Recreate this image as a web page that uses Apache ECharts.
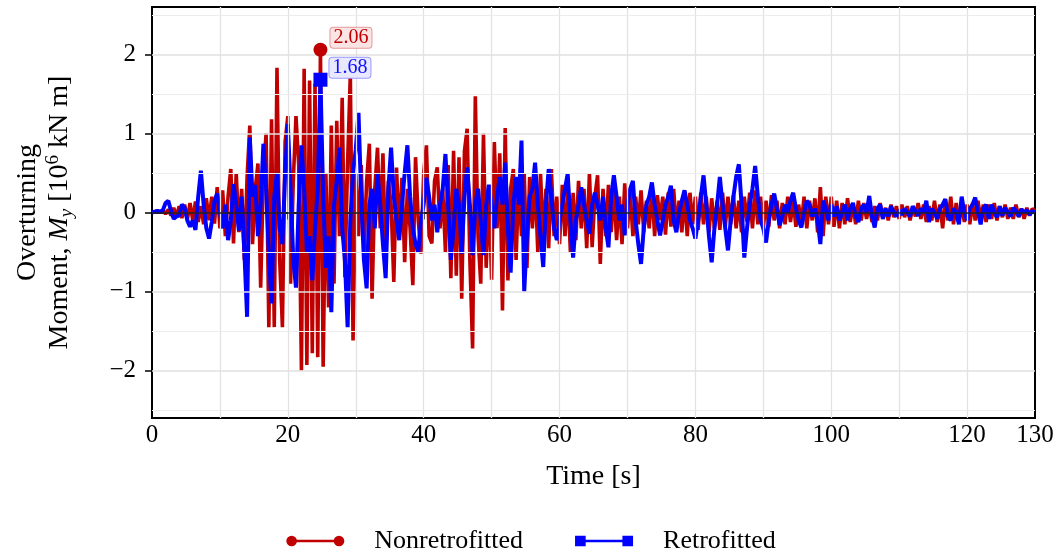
<!DOCTYPE html>
<html>
<head>
<meta charset="utf-8">
<script src="https://cdn.jsdelivr.net/npm/echarts@6/dist/echarts.min.js"></script>
<style>
  html, body { margin: 0; padding: 0; background: #fff; }
  #chart { width: 1062px; height: 557px; }
</style>
</head>
<body>
<div id="chart"></div>
<script>
// sampling step of both records [s]
const timeStep = 0.4;

// overturning moment, 10^6 kN m, one value per step
const nonretrofitted = [
  0, 0.01, 0.02, 0, 0.03, -0.02, 0.04, -0.04, 0.06, -0.05, 0.08, -0.07, 0.1, -0.09, 0.12, -0.1, 0.14, -0.12, 0.08, -0.15, 0.18, -0.1, 0.2, -0.14, 0.32,
  -0.2, 0.28, -0.3, 0.2, 0.55, -0.39, 0.5, -0.25, 0.3, -0.6, 0.45, 1.1, -0.4, 0.3, 0.62, -0.95, 0.5, 1.0, -1.45, 1.18, -1.45, 1.83, -0.6, -1.45, 0.9,
  1.22, -0.9, 0.4, 1.22, 0.6, -2.0, 1.82, -1.93, 1.67, -1.78, 1.63, -1.83, 2.06, -1.95, 0.5, -1.2, 1.1, -0.9, 1.16, -0.3, 1.45, -0.82, 0.63, 1.75, -1.62,
  0.5, -0.3, 0.6, -0.52, 0.4, 0.87, -1.09, 0.3, 0.82, -0.2, 0.75, -0.6, 0.4, 0.1, -0.88, 0.57, -0.3, 0.44, -0.63, 0.3, -0.2, -0.92, 0.7, -0.1, -0.52,
  0.5, 0.85, -0.3, -0.39, 0.4, 0.57, -0.2, 0.3, -0.5, 0.6, -0.83, 0.78, -0.8, 0.7, -1.09, 0.78, 1.06, -0.6, -1.72, 1.47, -0.3, -0.9, 1.0, -0.7, 0.3,
  -0.85, 0.89, -0.2, 0.75, -1.24, 1.07, -0.86, 0.3, 0.55, -0.6, 0.4, -0.3, 0.5, -0.7, 0.45, -0.2, 0.4, -0.5, 0.5, -0.35, 0.3, -0.45, 0.55, -0.3, 0.2,
  -0.4, 0.35, -0.3, 0.3, -0.5, 0.25, -0.35, 0.4, -0.2, 0.3, -0.45, 0.5, -0.44, 0.2, 0.47, -0.65, 0.3, -0.3, 0.35, -0.25, 0.3, -0.35, 0.2, -0.4, 0.37,
  -0.2, 0.25, -0.3, 0.2, -0.15, 0.28, -0.25, 0.15, -0.2, 0.3, -0.3, 0.22, -0.1, 0.2, -0.28, 0.25, -0.18, 0.3, -0.2, 0.15, -0.25, 0.2, -0.3, 0.25, -0.15,
  0.2, -0.22, 0.25, -0.15, 0.2, -0.25, 0.18, -0.2, 0.15, -0.22, 0.25, -0.18, 0.2, -0.15, 0.22, -0.2, 0.15, -0.25, 0.2, -0.12, 0.25, -0.2, 0.28, -0.15, 0.2,
  -0.2, 0.15, -0.18, 0.22, -0.1, 0.15, -0.2, 0.12, -0.15, 0.2, -0.12, 0.15, -0.18, 0.1, -0.15, 0.2, -0.2, 0.15, -0.1, 0.18, -0.25, 0.32, -0.3, 0.2, -0.15,
  0.2, -0.18, 0.15, -0.2, 0.12, -0.15, 0.18, -0.12, 0.1, -0.15, 0.15, -0.1, 0.12, -0.08, 0.1, -0.12, 0.08, -0.1, 0.12, -0.08, 0.06, -0.1, 0.1, -0.06, 0.08,
  -0.08, 0.1, -0.06, 0.08, -0.1, 0.06, -0.05, 0.12, -0.08, 0.1, -0.12, 0.08, -0.1, 0.15, -0.12, 0.1, -0.2, 0.15, -0.1, 0.2, -0.15, 0.12, -0.1, 0.08, -0.12,
  0.1, -0.15, 0.12, -0.1, 0.15, -0.08, 0.1, -0.12, 0.1, -0.08, 0.12, -0.1, 0.08, -0.06, 0.1, -0.08, 0.06, -0.08, 0.1, -0.06, 0.05, -0.08, 0.06, -0.04, 0.05, 0.02
];

const retrofitted = [
  0, 0.01, 0.02, 0.01, 0.03, 0.12, 0.15, 0.02, -0.08, -0.05, -0.04, 0.1, 0.06, -0.1, -0.18, -0.1, -0.22, 0.2, 0.53, 0.1, -0.2, -0.33, -0.12, 0.15, 0.24,
  0.0, -0.2, 0.1, -0.35, -0.1, 0.36, 0.1, -0.23, 0.2, -0.5, -1.32, 0.95, 0.2, 0.35, -0.3, 0.1, 0.87, 0.3, -0.5, -1.15, 0.2, 0.5, -0.2, -0.4, 0.5,
  1.12, 0.3, -0.6, -0.95, 0.1, 0.85, 0.3, -0.5, -0.3, -0.86, -0.2, 0.3, 1.68, 0.2, -0.7, -0.3, -1.26, 0.1, 0.4, 0.82, -0.2, -0.6, -1.45, -0.1, 0.5,
  0.8, 1.26, 0.2, -0.6, -0.96, 0.1, 0.3, -0.2, 0.5, 0.1, -0.4, -0.83, 0.3, 0.82, 0.2, -0.1, -0.35, 0.1, 0.5, 0.85, 0.2, -0.2, -0.4, -0.5, -0.1,
  0.1, 0.44, 0.2, -0.1, 0.1, -0.25, 0.1, 0.3, 0.74, 0.1, -0.6, -0.2, 0.3, 0.1, -0.52, 0.2, 0.57, 0.1, -0.54, 0.1, 0.3, -0.1, -0.54, 0.1, 0.35,
  0.1, -0.2, 0.2, 0.45, 0.1, 0.63, -0.2, -0.76, 0.1, 0.45, 0.1, 0.91, -1.0, -0.3, 0.2, 0.3, 0.63, 0.1, -0.3, -0.69, 0.1, 0.55, 0.2, -0.2, -0.35,
  -0.1, 0.1, 0.3, 0.49, -0.1, -0.57, -0.1, 0.1, 0.32, 0.1, -0.1, -0.27, 0.1, 0.25, 0.1, -0.1, 0.2, -0.2, -0.44, 0.2, 0.47, 0.2, -0.1, 0.1, -0.29,
  0.1, 0.3, 0.4, -0.1, -0.4, -0.65, -0.2, 0.1, 0.2, 0.38, 0.1, -0.1, -0.29, -0.1, 0.1, 0.2, 0.34, -0.1, -0.25, 0.0, 0.15, 0.28, 0.1, -0.1, -0.2,
  -0.33, -0.1, 0.2, 0.47, 0.1, -0.3, -0.63, -0.2, 0.1, 0.45, 0.1, -0.2, -0.48, -0.1, 0.2, 0.45, 0.61, 0.1, -0.57, -0.2, 0.1, 0.3, 0.59, 0.2, -0.1,
  -0.2, -0.38, -0.1, 0.1, 0.24, 0.05, -0.16, -0.05, 0.1, 0.0, 0.15, 0.25, 0.05, -0.1, -0.19, 0.0, 0.15, 0.1, -0.05, 0.05, -0.1, -0.4, 0.15, 0.05, -0.1,
  0.1, -0.05, 0.08, -0.1, 0.0, 0.1, -0.1, 0.05, 0.12, -0.05, -0.12, 0.05, 0.1, 0.0, 0.21, -0.05, -0.19, 0.05, 0.1, -0.08, 0.05, -0.05, 0.08, 0.0, -0.05,
  0.03, -0.03, 0.05, 0.0, -0.05, 0.08, 0.02, -0.04, 0.05, 0.0, 0.15, -0.12, 0.05, 0.0, -0.08, 0.05, 0.1, 0.17, -0.05, -0.1, 0.05, 0.0, -0.15, 0.2, 0.0,
  -0.1, 0.05, 0.1, 0.19, 0.0, -0.15, 0.05, 0.1, -0.08, 0.1, 0.0, -0.06, 0.08, -0.04, 0.06, 0.0, -0.05, 0.06, 0.02, -0.05, 0.04, 0.0, 0.03, -0.03, 0.02, 0.0
];

const xTicks = [0, 20, 40, 60, 80, 100, 120, 130];
const yTicks = [-2, -1, 0, 1, 2];
const xGrid = [10, 20, 30, 40, 50, 60, 70, 80, 90, 100, 110, 120];
const yGridMajor = [-2, -1, 1, 2];
const yGridMinor = [-2.5, -1.5, -0.5, 0.5, 1.5, 2.5];

const RED = '#c00000';
const BLUE = '#0000ff';
const FONT = "'Liberation Serif', 'DejaVu Serif', serif";

// legend glyphs: a line with a marker at each end
const ICON_CIRCLE = 'path://M0,5.5a5.5,5.5 0 1,1 11,0a5.5,5.5 0 1,1 -11,0zM49,5.5a5.5,5.5 0 1,1 11,0a5.5,5.5 0 1,1 -11,0zM10,4.2h40v2.6h-40z';
const ICON_SQUARE = 'path://M0,0h11v11h-11zM49,0h11v11h-11zM10,4.2h40v2.6h-40z';

function toPairs(vals) {
  return vals.map((v, i) => [+(i * timeStep).toFixed(2), v]);
}
function peakOf(vals) {
  let k = 0;
  vals.forEach((v, i) => { if (v > vals[k]) k = i; });
  return [+(k * timeStep).toFixed(2), vals[k]];
}
const fmt = v => (v < 0 ? '\u2212' + (-v) : String(v));

const gridLines = [].concat(
  xGrid.map(v => ({ xAxis: v, lineStyle: { color: '#e2e2e2', width: 1.3, type: 'solid' } })),
  yGridMajor.map(v => ({ yAxis: v, lineStyle: { color: '#e0e0e0', width: 1.6, type: 'solid' } })),
  yGridMinor.map(v => ({ yAxis: v, lineStyle: { color: '#ececec', width: 1.2, type: 'solid' } })),
  [{ yAxis: 0, lineStyle: { color: '#222', width: 1.5, type: 'solid' } }]
);

const chart = echarts.init(document.getElementById('chart'));
chart.setOption({
  animation: false,
  backgroundColor: '#fff',
  textStyle: { fontFamily: FONT, color: '#000' },
  grid: {
    left: 152, right: 27, top: 7, bottom: 139,
    show: true, borderColor: '#000', borderWidth: 2, backgroundColor: 'transparent'
  },
  legend: {
    data: [
      { name: 'Nonretrofitted', icon: ICON_CIRCLE },
      { name: 'Retrofitted', icon: ICON_SQUARE }
    ],
    left: 'center', top: 523,
    itemWidth: 58, itemHeight: 11, itemGap: 52,
    itemStyle: { borderWidth: 0 },
    textStyle: { fontFamily: FONT, fontSize: 26, color: '#000', padding: [0, 0, 0, 25] }
  },
  xAxis: {
    type: 'value', min: 0, max: 130,
    name: 'Time [s]', nameLocation: 'middle', nameGap: 45,
    nameTextStyle: { fontFamily: FONT, fontSize: 28, color: '#000' },
    axisLine: { show: true, lineStyle: { color: '#000', width: 2 } },
    axisTick: { show: true, inside: false, length: 7, customValues: xTicks, lineStyle: { color: '#000', width: 1.5 } },
    axisLabel: { customValues: xTicks, margin: 5, fontFamily: FONT, fontSize: 25, color: '#000', formatter: fmt },
    splitLine: { show: false }
  },
  yAxis: {
    type: 'value', min: -2.6, max: 2.6,
    name: '{t|Overturning}\n{t|Moment, }{i|M}{sub|y}{t| [10}{sup|6}{t| kN m]}',
    nameLocation: 'middle', nameRotate: 90, nameGap: 76,
    nameTextStyle: {
      fontFamily: FONT, fontSize: 28, color: '#000',
      rich: {
        t: { fontFamily: FONT, fontSize: 28, lineHeight: 32, color: '#000' },
        i: { fontFamily: FONT, fontSize: 28, lineHeight: 32, fontStyle: 'italic', color: '#000' },
        sub: { fontFamily: FONT, fontSize: 19, lineHeight: 22, fontStyle: 'italic', verticalAlign: 'bottom', color: '#000' },
        sup: { fontFamily: FONT, fontSize: 19, lineHeight: 26, verticalAlign: 'top', color: '#000' }
      }
    },
    axisLine: { show: true, lineStyle: { color: '#000', width: 2 } },
    axisTick: { show: true, inside: false, length: 7, customValues: yTicks, lineStyle: { color: '#000', width: 1.5 } },
    axisLabel: { customValues: yTicks, margin: 16, fontFamily: FONT, fontSize: 25, color: '#000', formatter: fmt },
    splitLine: { show: false }
  },
  series: [
    {
      name: 'grid', type: 'line', data: [], z: 1, silent: true,
      markLine: { silent: true, symbol: ['none', 'none'], label: { show: false }, animation: false, data: gridLines }
    },
    {
      name: 'Nonretrofitted', type: 'line', data: toPairs(nonretrofitted), z: 3,
      showSymbol: false, symbol: 'none',
      color: RED, itemStyle: { color: RED }, lineStyle: { color: RED, width: 3.6 }
    },
    {
      name: 'Retrofitted', type: 'line', data: toPairs(retrofitted), z: 4,
      showSymbol: false, symbol: 'none',
      color: BLUE, itemStyle: { color: BLUE }, lineStyle: { color: BLUE, width: 4 }
    },
    {
      name: 'peakRed', type: 'scatter', z: 5, data: [peakOf(nonretrofitted)],
      symbol: 'circle', symbolSize: 14, itemStyle: { color: RED, opacity: 1 },
      label: {
        show: true, position: [17, -15], align: 'left', verticalAlign: 'top',
        formatter: p => p.value[1].toFixed(2),
        fontFamily: FONT, fontSize: 20, lineHeight: 20, color: RED, opacity: 1,
        backgroundColor: '#fbe4e4', borderColor: '#e59a9a', borderWidth: 1, borderRadius: 3, padding: [0, 3]
      }
    },
    {
      name: 'peakBlue', type: 'scatter', z: 6, data: [peakOf(retrofitted)],
      symbol: 'rect', symbolSize: 14, itemStyle: { color: BLUE, opacity: 1 },
      label: {
        show: true, position: [16, -15], align: 'left', verticalAlign: 'top',
        formatter: p => p.value[1].toFixed(2),
        fontFamily: FONT, fontSize: 20, lineHeight: 20, color: '#1010ff', opacity: 1,
        backgroundColor: '#e8e8ff', borderColor: '#9a9aff', borderWidth: 1, borderRadius: 3, padding: [0, 3]
      }
    }
  ]
});
</script>
</body>
</html>
